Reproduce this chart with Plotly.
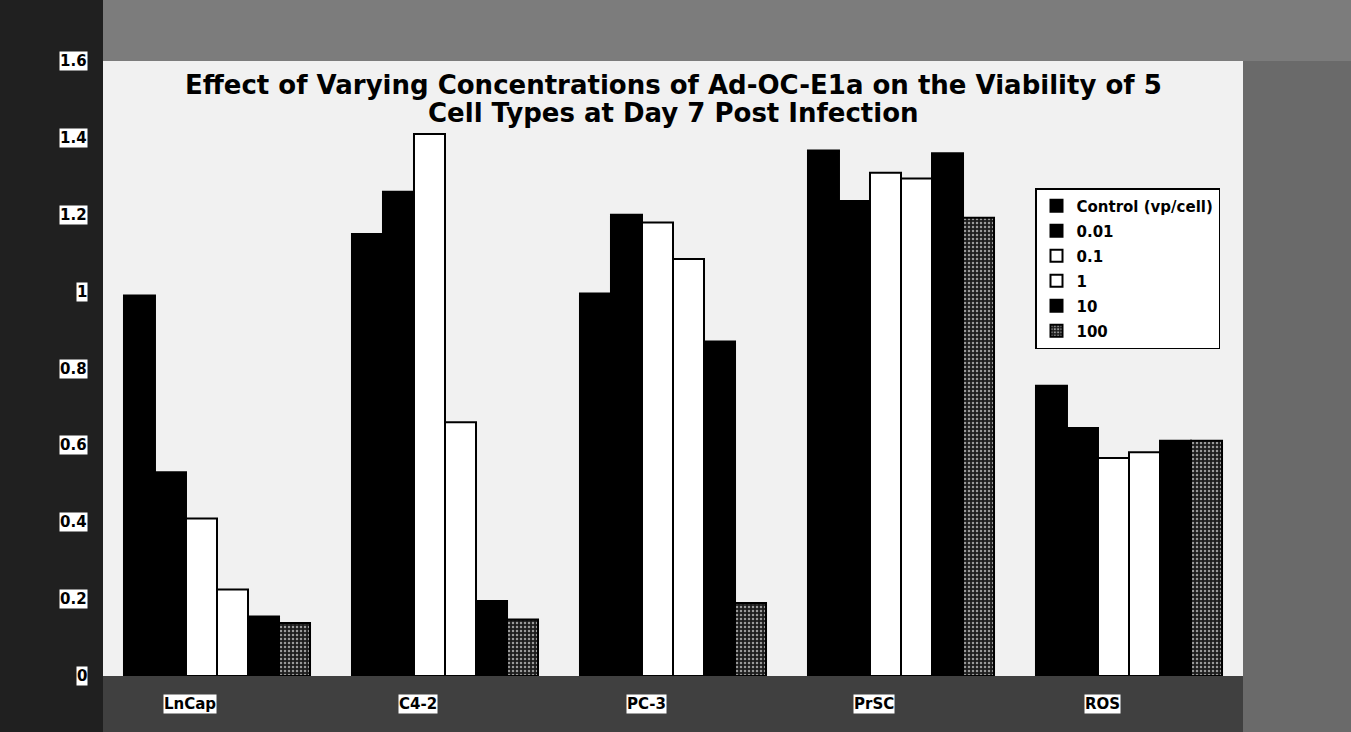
import plotly.graph_objects as go

# ---------------- data ----------------
categories = ["LnCap", "C4-2", "PC-3", "PrSC", "ROS"]
series_names = ["Control (vp/cell)", "0.01", "0.1", "1", "10", "100"]
control = [0.99, 1.15, 0.995, 1.367, 0.755]
conc_001 = [0.53, 1.26, 1.20, 1.236, 0.645]
conc_01 = [0.41, 1.41, 1.18, 1.309, 0.567]
conc_1 = [0.225, 0.66, 1.085, 1.294, 0.582]
conc_10 = [0.155, 0.195, 0.87, 1.36, 0.612]
conc_100 = [0.138, 0.147, 0.19, 1.192, 0.612]
y_tick_values = [0, 0.2, 0.4, 0.6, 0.8, 1.0, 1.2, 1.4, 1.6]
y_tick_labels = ["0", "0.2", "0.4", "0.6", "0.8", "1", "1.2", "1.4", "1.6"]
title_lines = ["Effect of Varying Concentrations of Ad-OC-E1a on the Viability of 5",
               "Cell Types at Day 7 Post Infection"]

series_values = [control, conc_001, conc_01, conc_1, conc_10, conc_100]

# ---------------- styles ----------------
W, H = 1351, 732
ML, MR, MT, MB = 103, 108, 61, 56
PW, PH = W - ML - MR, H - MT - MB
fills = ["#000000", "#000000", "#ffffff", "#ffffff", "#000000", "#1c1c1c"]
label_font = dict(family="DejaVu Sans", size=15, color="black", weight="bold")
title_font = dict(family="DejaVu Sans", size=26, color="black", weight="bold")
title_centers_px = [85, 113]

fig = go.Figure()
for i, (name, vals) in enumerate(zip(series_names, series_values)):
    marker = dict(color=fills[i], line=dict(color="black", width=2))
    if i == 5:
        marker["pattern"] = dict(shape=".", fgcolor="#9a9a9a", bgcolor="#1c1c1c",
                                 size=4, solidity=0.3, fillmode="replace")
    fig.add_trace(go.Bar(x=categories, y=vals, name=name, marker=marker,
                         legendgroup=name))

annotations = []
for v, t in zip(y_tick_values, y_tick_labels):
    annotations.append(dict(xref="paper", x=-15 / PW, xanchor="right",
                            yref="y", y=v, yanchor="middle", text=t,
                            showarrow=False, bgcolor="white", borderpad=0,
                            font=label_font))
for c in categories:
    annotations.append(dict(xref="x", x=c, xshift=-27, xanchor="center",
                            yref="paper", y=-28 / PH, yanchor="middle", text=c,
                            showarrow=False, bgcolor="white", borderpad=0,
                            font=label_font))
for line, yc in zip(title_lines, title_centers_px):
    annotations.append(dict(xref="paper", x=0.5, xanchor="center",
                            yref="paper", y=1 - (yc - MT) / PH, yanchor="middle",
                            text=line, showarrow=False, font=title_font))

# background bands around the plot area (scanned look)
shapes = [
    dict(type="rect", xref="paper", yref="paper", layer="below",
         x0=-ML / PW, x1=0, y0=-MB / PH, y1=1 + MT / PH,
         fillcolor="#202020", line=dict(width=0)),
    dict(type="rect", xref="paper", yref="paper", layer="below",
         x0=0, x1=1 + MR / PW, y0=1, y1=1 + MT / PH,
         fillcolor="#7c7c7c", line=dict(width=0)),
    dict(type="rect", xref="paper", yref="paper", layer="below",
         x0=1, x1=1 + MR / PW, y0=-MB / PH, y1=1,
         fillcolor="#6a6a6a", line=dict(width=0)),
    dict(type="rect", xref="paper", yref="paper", layer="below",
         x0=0, x1=1, y0=-MB / PH, y1=0,
         fillcolor="#404040", line=dict(width=0)),
]

fig.update_layout(
    width=W, height=H,
    margin=dict(l=ML, r=MR, t=MT, b=MB),
    paper_bgcolor="#3c3c3c",
    plot_bgcolor="#f1f1f1",
    barmode="group", bargap=0.184, bargroupgap=0,
    showlegend=True,
    legend=dict(x=(1035 - ML) / PW, xanchor="left",
                y=(H - MB - 188) / PH, yanchor="top",
                bgcolor="white", bordercolor="black", borderwidth=1.5,
                font=label_font, tracegroupgap=2.5, traceorder="grouped"),
    xaxis=dict(showticklabels=False, showgrid=False, zeroline=False,
               showline=False, ticks=""),
    yaxis=dict(range=[0, 1.6], showticklabels=False, showgrid=False,
               zeroline=False, showline=False, ticks="",
               tickvals=y_tick_values),
    annotations=annotations,
    shapes=shapes,
    font=dict(family="DejaVu Sans"),
)

fig.write_html("out.html",
               config={"displayModeBar": False},
               post_script="document.body.style.margin='0px';"
                           "document.body.style.overflow='hidden';")
